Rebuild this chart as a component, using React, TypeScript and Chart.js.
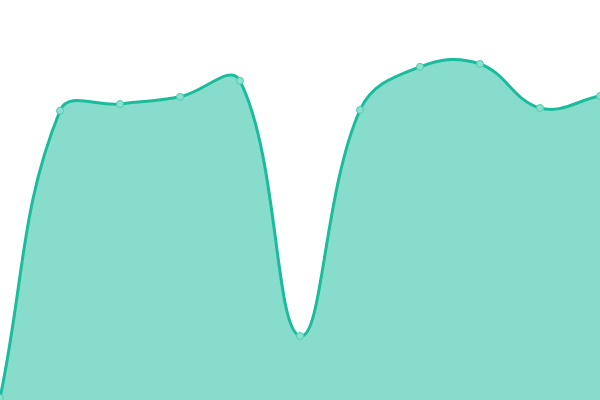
import React, { useEffect, useRef } from 'react';
import Chart from 'chart.js/auto';

const labels = ['1', '2', '3', '4', '5', '6', '7', '8', '9', '10', '11'];
const values = [0.5, 72.3, 74, 75.8, 79.8, 16, 72.5, 83.3, 84, 73, 76];

const App: React.FC = () => {
    const chartRef = useRef<HTMLCanvasElement>(null);
    const chartInstance = useRef<Chart | null>(null);

    useEffect(() => {
        document.body.style.margin = '0';
        if (!chartRef.current) return;
        const ctx = chartRef.current.getContext('2d');
        if (!ctx) return;

        chartInstance.current = new Chart(ctx, {
            type: 'line',
            data: {
                labels,
                datasets: [{
                    data: values,
                    borderColor: '#1abc9c',
                    backgroundColor: 'rgba(26, 188, 156, 0.52)',
                    borderWidth: 3,
                    fill: true,
                    tension: 0.4,
                    pointRadius: 3.5,
                    pointBorderWidth: 1,
                    pointBackgroundColor: 'rgba(140, 224, 207, 1)',
                    pointBorderColor: '#4ccdb2'
                }]
            },
            options: {
                responsive: true,
                maintainAspectRatio: false,
                animation: false,
                layout: { padding: 0, autoPadding: false },
                scales: {
                    x: { display: false },
                    y: { display: false, min: 0, max: 100 }
                },
                plugins: {
                    legend: { display: false },
                    tooltip: { enabled: false }
                }
            }
        });

        return () => {
            if (chartInstance.current) {
                chartInstance.current.destroy();
            }
        };
    }, []);

    return (
        <div style={{ width: 600, height: 400, position: 'relative' }}>
            <canvas ref={chartRef}></canvas>
        </div>
    );
};

export default App;
